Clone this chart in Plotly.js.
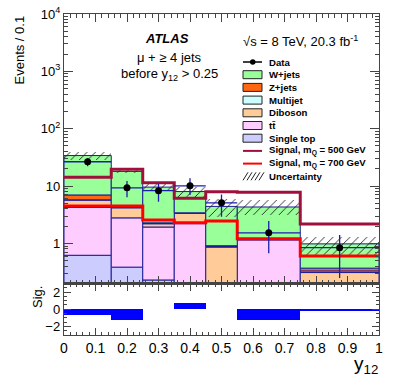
<!DOCTYPE html>
<html>
<head>
<meta charset="utf-8">
<script src="https://cdn.plot.ly/plotly-3.0.1.min.js"></script>
<style>
  html, body { margin: 0; padding: 0; background: #fff; }
  #chart { width: 399px; height: 384px; }
</style>
</head>
<body>
<div id="chart"></div>
<script>
// bin edges in y12
const binEdges = [0, 0.15, 0.25, 0.35, 0.45, 0.55, 0.75, 1.0];

// background stack (events / 0.1), bottom to top
const singleTop = [0.61, 0.375, 0.22, 0.15, 0.10, 0.10, 0.05];
const ttbar     = [3.6, 2.4, 1.7, 2.05, 0.05, 1.04, 0.10];
const diboson   = [1.5, 1.4, 0.27, 1.13, 0.70, 0.02, 0.15];
const multijet  = [0.02, 0.02, 0.02, 0.02, 0.02, 0.02, 0.02];
const zjets     = [1.25, 0.18, 0.06, 0.05, 0.03, 0.02, 0.04];
const wjets     = [27.0, 13.6, 7.3, 4.6, 3.5, 3.1, 0.61];

// total background uncertainty band
const uncHigh = [40, 20.3, 11.4, 9.7, 5.85, 5.7, 1.3];
const uncLow  = [28.5, 16.6, 8.5, 6.5, 2.9, 3.1, 0.58];

// data
const dataVals    = [26.5, 9.3, 8.3, 10.1, 5.1, 1.53, 0.84];
const dataErrUp   = [4.3, 2.9, 2.8, 3.5, 2.0, 0.92, 0.56];
const dataErrDown = [4.3, 2.95, 3.0, 3.1, 2.2, 0.86, 0.59];

// signals
const signal500 = [14.2, 19.6, 11.4, 6.1, 7.95, 7.8, 2.17];
const signal700 = [4.5, 4.5, 2.55, 2.3, 2.45, 1.2, 0.6];

// significance panel
const significance = [-0.65, -1.3, 0, 0.7, 0, -1.3, -0.2];

// y tick labels
const yTickVals = [1, 10, 100, 1000, 10000];
const yTickText = ['1', '10', '10<sup>2</sup>', '10<sup>3</sup>', '10<sup>4</sup>'];

const centers = binEdges.slice(0, -1).map((e, i) => (e + binEdges[i + 1]) / 2);
const widths = binEdges.slice(0, -1).map((e, i) => binEdges[i + 1] - e);
const halfW = widths.map(w => w / 2);

const outline = '#1c1c96';
const components = [
  { vals: singleTop, color: '#ccccff' },
  { vals: ttbar, color: '#ffccff' },
  { vals: diboson, color: '#ffcc99' },
  { vals: multijet, color: '#ccffff' },
  { vals: zjets, color: '#ff6611' },
  { vals: wjets, color: '#99ff99' }
];

const traces = [];
let cum = centers.map(() => 0.01);
components.forEach(c => {
  traces.push({
    type: 'bar', x: centers, y: c.vals, base: cum.slice(), width: widths,
    marker: { color: c.color, line: { color: outline, width: 1 } },
    showlegend: false, hoverinfo: 'skip'
  });
  cum = cum.map((v, i) => v + c.vals[i]);
});

// uncertainty hatch
traces.push({
  type: 'bar', x: centers, base: uncLow, y: uncHigh.map((h, i) => h - uncLow[i]), width: widths,
  marker: {
    color: 'rgba(0,0,0,0)', line: { width: 0 },
    pattern: { shape: '/', fgcolor: '#222', bgcolor: 'rgba(0,0,0,0)', size: 6, solidity: 0.15 }
  },
  showlegend: false, hoverinfo: 'skip'
});

// signal step lines
const stepY = arr => arr.concat([arr[arr.length - 1]]);
traces.push({
  type: 'scatter', mode: 'lines', x: binEdges, y: stepY(signal500),
  line: { shape: 'hv', color: '#a0103c', width: 3 }, showlegend: false
});
traces.push({
  type: 'scatter', mode: 'lines', x: binEdges, y: stepY(signal700),
  line: { shape: 'hv', color: '#ff0000', width: 3 }, showlegend: false
});

// data
traces.push({
  type: 'scatter', mode: 'markers', x: centers, y: dataVals,
  marker: { color: '#000', size: 7 },
  error_y: { type: 'data', symmetric: false, array: dataErrUp, arrayminus: dataErrDown, color: '#1c1cb0', thickness: 1.3, width: 0 },
  error_x: { type: 'data', array: halfW, color: '#1c1cb0', thickness: 1.3, width: 0 },
  showlegend: false
});

// significance bars
traces.push({
  type: 'bar', x: centers, y: significance, width: widths,
  xaxis: 'x2', yaxis: 'y2',
  marker: { color: '#0000ff', line: { width: 0 } },
  showlegend: false, hoverinfo: 'skip'
});

// pixel -> paper helpers for text and legend
const px = v => (v - 64) / 315;
const py = v => (335 - v) / 321;

const font = 'Liberation Sans, Arial, sans-serif';
const annotations = [];
const shapes = [];
const addText = (text, x, y, size, xanchor, extra) => annotations.push(Object.assign({
  text, x: px(x), y: py(y), xref: 'paper', yref: 'paper', showarrow: false,
  xanchor: xanchor || 'center', yanchor: 'middle', font: { family: font, size, color: '#000' }
}, extra || {}));

addText('<b><i>ATLAS</i></b>', 167, 38, 13);
addText('\u03bc + \u2265 4 jets', 169, 57, 13);
addText('before y<sub>12</sub> > 0.25', 169, 74, 13);
addText('\u221as = 8 TeV, 20.3 fb<sup>-1</sup>', 300, 41, 13);
addText('Events / 0.1', 19, 14, 13, 'center', { textangle: -90, yanchor: 'top' });
addText('Sig.', 37, 284, 13, 'center', { textangle: -90, yanchor: 'top' });
addText('y<sub>12</sub>', 380, 365, 19, 'right');

// legend
const legendLabels = ['Data', 'W+jets', 'Z+jets', 'Multijet', 'Diboson', 'tt\u0304', 'Single top',
  'Signal, m<sub>Q</sub> = 500 GeV', 'Signal, m<sub>Q</sub> = 700 GeV', 'Uncertainty'];
const legendBoxColors = [null, '#99ff99', '#ff6611', '#ccffff', '#ffcc99', '#ffccff', '#ccccff'];
const row0 = 62, rowStep = 12.7, symL = 243, symR = 262;
legendLabels.forEach((lab, i) => {
  const yc = row0 + i * rowStep;
  addText('<b>' + lab + '</b>', 267, yc, 9.6, 'left');
  if (i === 0) {
    shapes.push({ type: 'line', xref: 'paper', yref: 'paper', x0: px(symL), x1: px(symR), y0: py(yc), y1: py(yc), line: { color: '#000', width: 1.5 } });
    shapes.push({ type: 'circle', xref: 'paper', yref: 'paper', x0: px(250), x1: px(255.5), y0: py(yc - 2.75), y1: py(yc + 2.75), fillcolor: '#000', line: { width: 0 } });
  } else if (i <= 6) {
    shapes.push({ type: 'rect', xref: 'paper', yref: 'paper', x0: px(symL), x1: px(symR), y0: py(yc - 4), y1: py(yc + 4), fillcolor: legendBoxColors[i], line: { color: '#222', width: 1 } });
  } else if (i <= 8) {
    shapes.push({ type: 'line', xref: 'paper', yref: 'paper', x0: px(symL), x1: px(symR), y0: py(yc), y1: py(yc), line: { color: i === 7 ? '#a0103c' : '#ff0000', width: 2 } });
  } else {
    for (let k = 0; k < 5; k++) {
      const x0 = symL + k * 4;
      shapes.push({ type: 'line', xref: 'paper', yref: 'paper', x0: px(x0), x1: px(x0 + 5), y0: py(yc + 4), y1: py(yc - 4), line: { color: '#222', width: 1 } });
    }
  }
});

// minor ticks for the log axis
const yMinor = [];
for (let d = -1; d <= 3; d++) for (let k = 2; k <= 9; k++) yMinor.push(k * Math.pow(10, d));

const axisCommon = {
  showgrid: false, zeroline: false, showline: true, linecolor: '#444', linewidth: 1.2,
  ticks: 'inside', tickcolor: '#444', mirror: 'ticks',
  tickfont: { family: font, size: 13, color: '#000' }
};

const layout = {
  width: 399, height: 384,
  margin: { l: 64, r: 20, t: 14, b: 49 },
  paper_bgcolor: '#fff', plot_bgcolor: '#fff',
  barmode: 'overlay', bargap: 0,
  showlegend: false,
  xaxis: Object.assign({}, axisCommon, {
    domain: [0, 1], range: [0, 1], anchor: 'y', showticklabels: false,
    dtick: 0.1, tick0: 0, ticklen: 8,
    minor: { dtick: 0.02, tick0: 0, ticks: 'inside', ticklen: 4, tickcolor: '#444' }
  }),
  yaxis: Object.assign({}, axisCommon, {
    domain: [0.1604, 1], type: 'log', range: [-0.7, 4], anchor: 'x',
    tickmode: 'array', tickvals: yTickVals, ticktext: yTickText, ticklen: 9,
    minor: { tickmode: 'array', tickvals: yMinor, ticks: 'inside', ticklen: 4, tickcolor: '#444' }
  }),
  xaxis2: Object.assign({}, axisCommon, {
    domain: [0, 1], range: [0, 1], anchor: 'y2', matches: 'x',
    dtick: 0.1, tick0: 0, ticklen: 7, tickfont: { family: font, size: 14, color: '#000' },
    minor: { dtick: 0.02, tick0: 0, ticks: 'inside', ticklen: 3, tickcolor: '#444' }
  }),
  yaxis2: Object.assign({}, axisCommon, {
    domain: [0, 0.1604], range: [-3, 3], anchor: 'x2',
    tickmode: 'array', tickvals: [-2, 0, 2], ticklen: 7,
    minor: { dtick: 0.5, ticks: 'inside', ticklen: 3, tickcolor: '#444' }
  }),
  annotations, shapes
};

Plotly.newPlot('chart', traces, layout, { staticPlot: true, displayModeBar: false });
</script>
</body>
</html>
